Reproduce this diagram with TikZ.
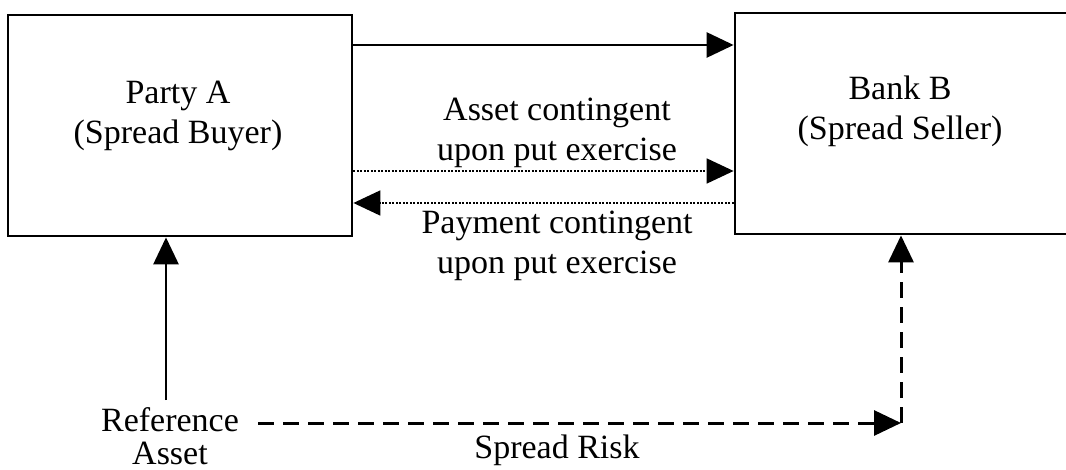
\documentclass[tikz,border=0pt]{standalone}
\usepackage{fontspec}
\setmainfont{Liberation Serif}
\usetikzlibrary{arrows.meta}
\begin{document}
\begin{tikzpicture}[x=1pt,y=-1pt,
  box/.style={draw,line width=2.8pt,rectangle,inner sep=0pt},
  lbl/.style={align=center,font=\fontsize{34}{40}\selectfont,inner sep=0pt},
  tip/.style={-{Triangle[length=27pt,width=25pt]}},
  solidline/.style={line width=2.8pt,tip},
  dotline/.style={line width=1.8pt,dash pattern=on 2pt off 1.5pt,tip},
  dashline/.style={line width=3pt,dash pattern=on 16pt off 9pt,tip}]
\useasboundingbox (0,0) rectangle (1066,470);
\node[box,minimum width=344pt,minimum height=221pt] (A) at (180,125.5) {};
\node[box,minimum width=340pt,minimum height=221pt] (B) at (905,123.5) {};
\node[lbl] (At) at (178,116) {Party A\\(Spread Buyer)};
\node[lbl] (Bt) at (900,111) {Bank B\\(Spread Seller)};
\node[lbl] (t1) at (557,133) {Asset contingent\\upon put exercise};
\node[lbl] (t2) at (557,246) {Payment contingent\\upon put exercise};
\node[lbl,font=\fontsize{34}{33}\selectfont] (ref) at (170,436) {Reference\\Asset};
\node[lbl] (sr) at (557,450) {Spread Risk};
\coordinate (y1) at (0,45);
\coordinate (y2) at (0,171);
\coordinate (y3) at (0,203);
\coordinate (v0) at (166,400);
\coordinate (d0) at (258,423);
\coordinate (c) at (901,423);
\draw[solidline] (A.east |- y1) -- (B.west |- y1);
\draw[dotline] (A.east |- y2) -- (B.west |- y2);
\draw[dotline] (B.west |- y3) -- (A.east |- y3);
\draw[solidline] (v0) -- (v0 |- A.south);
\draw[dashline] (d0) -- (c);
\draw[dashline] (c) -- (c |- B.south);
\end{tikzpicture}
\end{document}
